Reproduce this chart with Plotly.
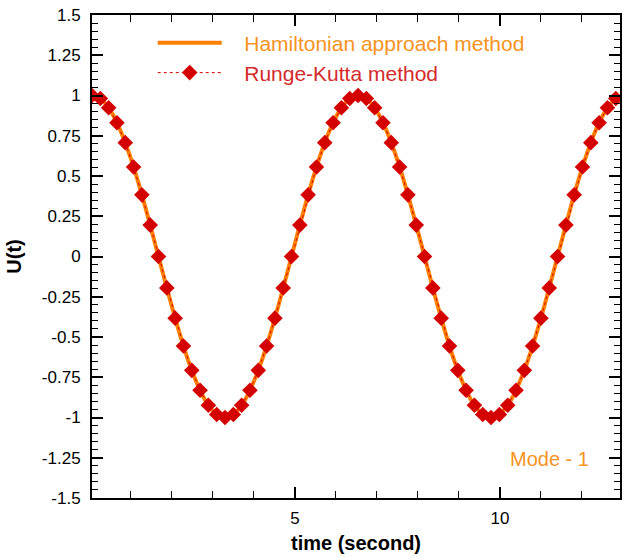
import plotly.graph_objects as go

# ---- data ----
time_s = [0.050, 0.253, 0.456, 0.658, 0.861, 1.064, 1.267, 1.470, 1.672, 1.875,
          2.078, 2.281, 2.484, 2.686, 2.889, 3.092, 3.295, 3.498, 3.700, 3.903,
          4.106, 4.309, 4.512, 4.714, 4.917, 5.120, 5.323, 5.526, 5.728, 5.931,
          6.134, 6.337, 6.540, 6.742, 6.945, 7.148, 7.351, 7.554, 7.756, 7.959,
          8.162, 8.365, 8.568, 8.770, 8.973, 9.176, 9.379, 9.582, 9.784, 9.987,
          10.190, 10.393, 10.596, 10.798, 11.001, 11.204, 11.407, 11.610, 11.812, 12.015,
          12.218, 12.421, 12.624, 12.826]

u_hamiltonian = [1.000, 0.981, 0.924, 0.831, 0.707, 0.556, 0.383, 0.195, 0.000, -0.195,
                 -0.383, -0.556, -0.707, -0.831, -0.924, -0.981, -1.000, -0.981, -0.924, -0.831,
                 -0.707, -0.556, -0.383, -0.195, 0.000, 0.195, 0.383, 0.556, 0.707, 0.831,
                 0.924, 0.981, 1.000, 0.981, 0.924, 0.831, 0.707, 0.556, 0.383, 0.195,
                 0.000, -0.195, -0.383, -0.556, -0.707, -0.831, -0.924, -0.981, -1.000, -0.981,
                 -0.924, -0.831, -0.707, -0.556, -0.383, -0.195, 0.000, 0.195, 0.383, 0.556,
                 0.707, 0.831, 0.924, 0.981]

u_runge_kutta = [1.000, 0.981, 0.924, 0.831, 0.707, 0.556, 0.383, 0.195, 0.000, -0.195,
                 -0.383, -0.556, -0.707, -0.831, -0.924, -0.981, -1.000, -0.981, -0.924, -0.831,
                 -0.707, -0.556, -0.383, -0.195, 0.000, 0.195, 0.383, 0.556, 0.707, 0.831,
                 0.924, 0.981, 1.000, 0.981, 0.924, 0.831, 0.707, 0.556, 0.383, 0.195,
                 0.000, -0.195, -0.383, -0.556, -0.707, -0.831, -0.924, -0.981, -1.000, -0.981,
                 -0.924, -0.831, -0.707, -0.556, -0.383, -0.195, 0.000, 0.195, 0.383, 0.556,
                 0.707, 0.831, 0.924, 0.981]

y_tickvals = [1.5, 1.25, 1, 0.75, 0.5, 0.25, 0, -0.25, -0.5, -0.75, -1, -1.25, -1.5]
y_ticktext = ["1.5", "1.25", "1", "0.75", "0.5", "0.25", "0", "-0.25", "-0.5",
              "-0.75", "-1", "-1.25", "-1.5"]
x_tickvals = [5, 10]
x_ticktext = ["5", "10"]

ORANGE = "#FF7F00"
ORANGE_TXT = "#F7931E"
RED = "#D40000"
RED_TXT = "#D42A2A"
FONT = "Liberation Sans, Arial, sans-serif"

fig = go.Figure()
fig.add_trace(go.Scatter(
    x=time_s, y=u_hamiltonian, mode="lines", name="   Hamiltonian approach method",
    line=dict(color=ORANGE, width=4, shape="spline"), legend="legend", showlegend=True))
fig.add_trace(go.Scatter(
    x=time_s, y=u_runge_kutta, mode="lines+markers", name="   Runge-Kutta method",
    line=dict(color=RED, width=1, dash="dot"),
    marker=dict(symbol="diamond", size=12, color=RED), legend="legend2", showlegend=True))

axis_common = dict(
    showline=True, linecolor="black", linewidth=2, mirror="ticks",
    ticks="inside", tickcolor="black", tickwidth=2, ticklen=11,
    showgrid=False, zeroline=False, automargin=False,
    tickfont=dict(family=FONT, size=17, color="black"),
)

fig.update_xaxes(
    range=[0.05, 12.93], tickmode="array", tickvals=x_tickvals, ticktext=x_ticktext,
    minor=dict(ticks="inside", dtick=1, tick0=0, ticklen=7, tickwidth=1, tickcolor="black"),
    ticklabelstandoff=4,
    title=dict(text="<b>time (second)</b>", font=dict(family=FONT, size=20, color="black"),
               standoff=9),
    **axis_common)
fig.update_yaxes(
    range=[-1.5, 1.5], tickmode="array", tickvals=y_tickvals, ticktext=y_ticktext,
    minor=dict(ticks="inside", dtick=0.05, tick0=0, ticklen=6, tickwidth=1, tickcolor="black"),
    ticklabelstandoff=6,
    title=dict(text="<b>U(t)</b>", font=dict(family=FONT, size=20, color="black"),
               standoff=15),
    **axis_common)

fig.update_layout(
    width=623, height=558,
    margin=dict(l=92, r=3, t=15, b=60),
    paper_bgcolor="white", plot_bgcolor="white",
    font=dict(family=FONT),
    showlegend=True,
    legend=dict(x=0.115, y=0.942, xanchor="left", yanchor="middle",
                bgcolor="rgba(0,0,0,0)", itemwidth=64,
                font=dict(family=FONT, size=21, color=ORANGE_TXT)),
    legend2=dict(x=0.115, y=0.880, xanchor="left", yanchor="middle",
                 bgcolor="rgba(0,0,0,0)", itemwidth=64,
                 font=dict(family=FONT, size=21, color=RED_TXT)),
    annotations=[dict(text="Mode - 1", x=0.866, y=0.081, xref="paper", yref="paper",
                      xanchor="center", yanchor="middle",
                      showarrow=False, font=dict(family=FONT, size=20, color=ORANGE_TXT))],
)

fig.write_html("out.html", config={"displayModeBar": False},
               post_script="document.body.style.margin='0';")
